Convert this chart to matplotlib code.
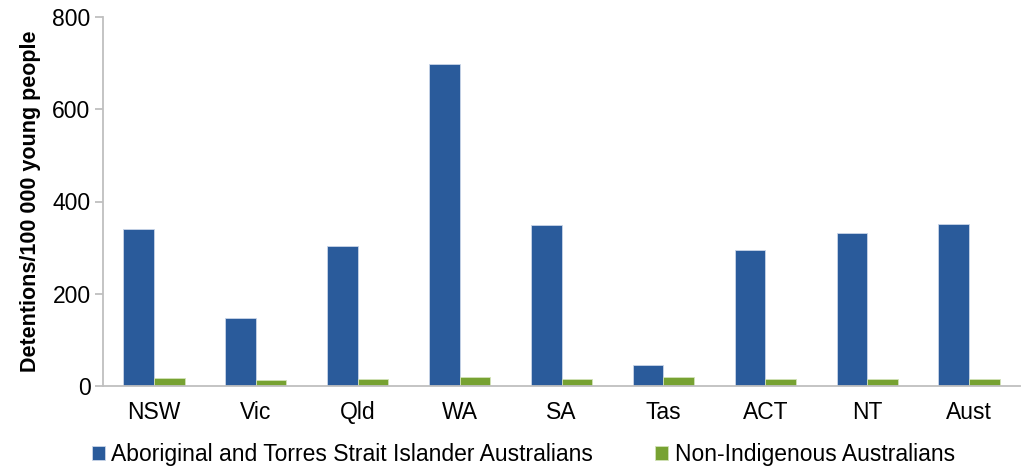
import matplotlib
matplotlib.use("Agg")
import matplotlib.pyplot as plt
import numpy as np

categories = ["NSW", "Vic", "Qld", "WA", "SA", "Tas", "ACT", "NT", "Aust"]
indigenous = [340, 148, 304, 699, 348, 46, 295, 331, 352]
non_indigenous = [17, 13, 16, 19, 16, 19, 16, 16, 16]
series_names = ["Aboriginal and Torres Strait Islander Australians", "Non-Indigenous Australians"]
yticks = [0, 200, 400, 600, 800]

plt.rcParams['font.family'] = ['Liberation Sans', 'DejaVu Sans']

W, H = 1023, 471
fig = plt.figure(figsize=(W / 100, H / 100), dpi=100)
ax = fig.add_axes([103 / W, 1 - 386 / H, (1020 - 103) / W, (386 - 17) / H])

x = np.arange(len(categories))
w = 0.3
blue = "#2A5B9B"
green = "#77A232"
ax.bar(x - w/2, indigenous, w, color=blue, edgecolor="#C9D5E8", linewidth=0.6, label=series_names[0])
ax.bar(x + w/2, non_indigenous, w, color=green, edgecolor="#D3E2B8", linewidth=0.6, label=series_names[1])

ax.set_xlim(-0.5, len(categories) - 0.5)
ax.set_ylim(0, 800)
ax.set_yticks(yticks)
ax.set_xticks(x)
ax.set_xticklabels(categories)

for s in ["top", "right"]:
    ax.spines[s].set_visible(False)
for s in ["left", "bottom"]:
    ax.spines[s].set_color("#BFBFBF")
    ax.spines[s].set_linewidth(1.3)

ax.tick_params(axis="y", length=6, width=1.3, color="#BFBFBF", labelsize=16.5, pad=3)
ax.tick_params(axis="x", length=0, labelsize=16.5, pad=11)

ax.set_ylabel("Detentions/100 000 young people", fontsize=15.5, fontweight="bold", labelpad=8)

fig.legend(loc="center left", bbox_to_anchor=(92 / W, 1 - 455 / H), ncol=2, frameon=False,
           fontsize=16.5, handlelength=0.55, handleheight=0.55, handletextpad=0.3,
           columnspacing=2.7, borderpad=0, borderaxespad=0)

fig.savefig("out.png", dpi=100)
